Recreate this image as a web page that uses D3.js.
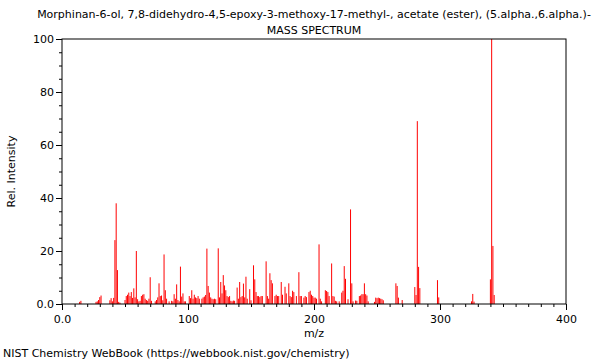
<!DOCTYPE html>
<html>
<head>
<meta charset="utf-8">
<script src="https://cdnjs.cloudflare.com/ajax/libs/d3/7.8.5/d3.min.js"></script>
<style>
body { margin: 0; background: #fff; }
text { font-family: "DejaVu Sans", sans-serif; fill: #000; }
</style>
</head>
<body>
<svg id="chart" width="600" height="360"></svg>
<script>
// peaks: m/z and relative intensity
var mz = [14, 15, 27, 28, 29, 30, 31, 38, 39, 40, 41, 42, 43, 44, 45, 46,
  50, 51, 52, 53, 54, 55, 56, 57, 58, 59, 60, 61, 62, 63, 64, 65, 66, 67, 68, 69, 70, 71,
  74, 75, 76, 77, 78, 79, 80, 81, 82, 83, 85, 87, 88, 89, 90, 91, 92, 93, 94, 95, 96, 97, 98,
  101, 102, 103, 104, 105, 106, 107, 108, 109, 111, 112, 113, 114, 115, 116, 117, 118, 119, 120,
  121, 122, 124, 125, 126, 127, 128, 129, 130, 131, 132, 133, 134, 135, 136, 137, 139, 140, 141,
  142, 143, 144, 145, 146, 147, 149, 150, 152, 153, 154, 155, 156, 157, 158, 159, 162, 163, 164,
  165, 166, 167, 169, 170, 171, 172, 174, 175, 177, 178, 180, 181, 182, 183, 184, 186, 188, 189,
  190, 192, 193, 194, 196, 197, 198, 199, 200, 201, 202, 204, 205, 206, 209, 210, 211, 212, 214,
  215, 216, 217, 218, 220, 222, 223, 224, 225, 227, 229, 230, 231, 233, 234, 236, 237, 238, 239,
  240, 241, 242, 243, 248, 249, 250, 251, 252, 253, 254, 255, 265, 266, 267, 270,
  280, 281, 282, 283, 284, 298, 299, 325, 326, 327, 340, 341, 342, 343];
var intensity = [0.8, 1.2, 0.8, 1.0, 1.5, 2.6, 3.2, 1.4, 2.2, 1.0, 2.3, 24.1, 38.0, 12.8, 0.8, 0.5,
  1.5, 3.0, 3.5, 4.3, 3.0, 4.5, 2.3, 5.9, 2.5, 20.0, 1.8, 1.0, 1.2, 3.0, 3.5, 3.7, 2.0, 1.5, 1.2, 2.0, 10.1, 1.2,
  1.0, 1.5, 2.5, 7.8, 3.0, 3.2, 1.4, 18.7, 5.2, 2.0, 1.0, 1.2, 1.0, 3.7, 2.0, 7.4, 1.5, 1.0, 14.1, 2.8, 4.0, 1.0, 1.0,
  3.0, 2.2, 5.2, 2.0, 3.5, 2.5, 2.2, 3.0, 2.0, 2.0, 2.5, 2.8, 3.4, 20.9, 6.8, 4.3, 2.5, 2.0, 1.8,
  2.0, 1.8, 21.0, 2.5, 8.3, 4.0, 10.9, 7.0, 5.2, 3.0, 2.6, 3.0, 1.2, 1.0, 1.3, 1.2, 6.2, 2.0, 8.3,
  2.6, 3.0, 7.7, 2.5, 10.3, 2.0, 5.6, 1.4, 14.6, 9.3, 4.5, 3.0, 3.0, 2.6, 3.0, 3.0, 16.1, 3.0, 2.0,
  11.6, 9.0, 7.8, 3.0, 3.5, 3.0, 3.0, 8.3, 3.5, 6.5, 4.0, 7.8, 3.0, 2.6, 5.0, 4.5, 3.0, 12.0, 3.0,
  3.0, 2.4, 3.0, 2.6, 4.5, 5.0, 3.5, 3.0, 2.4, 2.4, 2.0, 22.5, 2.0, 1.0, 5.2, 4.9, 4.5, 3.0, 15.3,
  3.0, 2.8, 1.2, 1.0, 1.0, 4.3, 5.0, 14.3, 9.5, 1.8, 35.7, 7.8, 1.0, 1.3, 1.2, 3.0, 3.2, 3.7, 3.7,
  7.8, 3.7, 3.2, 1.0, 0.8, 2.4, 2.2, 2.4, 2.2, 2.0, 1.8, 1.4, 7.8, 6.8, 2.4, 1.5,
  6.4, 3.4, 69.0, 14.0, 6.0, 9.0, 2.5, 1.0, 3.8, 0.9, 9.3, 100, 21.9, 3.4];

var titleText = "Morphinan-6-ol, 7,8-didehydro-4,5-epoxy-3-methoxy-17-methyl-, acetate (ester), (5.alpha.,6.alpha.)-";
var subTitle = "MASS SPECTRUM";
var xTicks = [0, 100, 200, 300, 400];
var yTicks = [0, 20, 40, 60, 80, 100];

var svg = d3.select("#chart");
var margin = {left: 62, right: 34, top: 39, bottom: 56};
var w = 600 - margin.left - margin.right,
    h = 360 - margin.top - margin.bottom;

var x = d3.scaleLinear().domain([0, 400]).range([0, w]);
var y = d3.scaleLinear().domain([0, 100]).range([h, 0]);

var g = svg.append("g").attr("transform", "translate(" + margin.left + "," + margin.top + ")");

function fmt(d) { return d === 0 ? "0.0" : d; }

// minor ticks
g.append("g").attr("transform", "translate(0," + h + ")")
  .call(d3.axisBottom(x).tickValues(d3.range(0, 401, 10)).tickSize(3).tickFormat(""))
  .call(function(a) { a.select(".domain").remove(); });
g.append("g")
  .call(d3.axisLeft(y).tickValues(d3.range(0, 101, 5)).tickSize(3).tickFormat(""))
  .call(function(a) { a.select(".domain").remove(); });

// major ticks + labels
g.append("g").attr("transform", "translate(0," + h + ")")
  .call(d3.axisBottom(x).tickValues(xTicks).tickSize(6).tickFormat(fmt))
  .call(function(a) {
    a.select(".domain").remove();
    a.selectAll("text").style("font-size", "11px").attr("dy", "0.95em");
  });
g.append("g")
  .call(d3.axisLeft(y).tickValues(yTicks).tickSize(6).tickFormat(fmt))
  .call(function(a) {
    a.select(".domain").remove();
    a.selectAll("text").style("font-size", "11px").attr("x", -8);
  });

// peaks
g.append("g").selectAll("line").data(mz).enter().append("line")
  .attr("x1", function(d) { return x(d); })
  .attr("x2", function(d) { return x(d); })
  .attr("y1", y(0))
  .attr("y2", function(d, i) { return y(intensity[i]); })
  .attr("stroke", "#ff0000")
  .attr("stroke-width", 1);

// frame
g.append("rect").attr("width", w).attr("height", h)
  .attr("fill", "none").attr("stroke", "#000").attr("stroke-width", 1);

svg.append("text").attr("x", 314).attr("y", 18).attr("text-anchor", "middle")
  .style("font-size", "11px").text(titleText);
svg.append("text").attr("x", 314).attr("y", 34).attr("text-anchor", "middle")
  .style("font-size", "11px").text(subTitle);
svg.append("text").attr("x", 314).attr("y", 337).attr("text-anchor", "middle")
  .style("font-size", "11px").text("m/z");
svg.append("text").attr("transform", "translate(15," + (margin.top + h / 2) + ") rotate(-90)")
  .attr("text-anchor", "middle").style("font-size", "11px").text("Rel. Intensity");
svg.append("text").attr("x", 3).attr("y", 357)
  .style("font-size", "11px").text("NIST Chemistry WebBook (https://webbook.nist.gov/chemistry)");
</script>
</body>
</html>
